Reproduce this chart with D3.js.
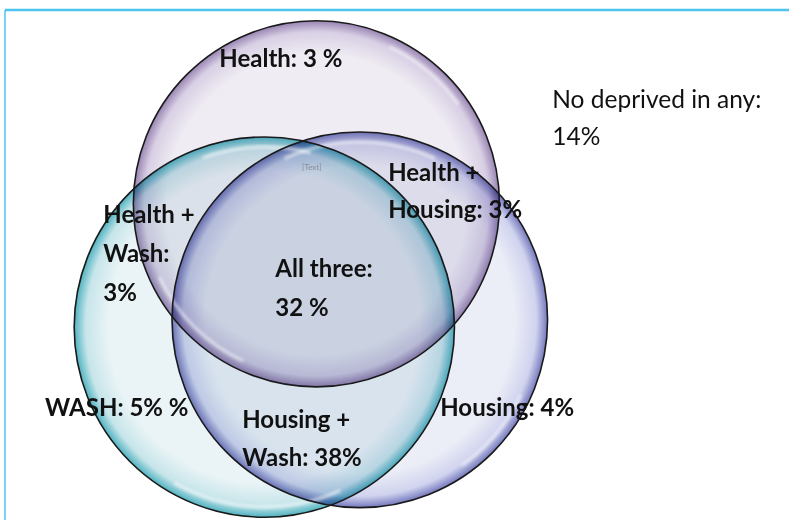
<!DOCTYPE html>
<html>
<head>
<meta charset="utf-8">
<script src="https://cdn.jsdelivr.net/npm/d3@7"></script>
<style>
  html, body { margin: 0; padding: 0; background: #ffffff; }
  svg { display: block; }
  .lbl { font-family: Lato, "Open Sans", sans-serif; font-weight: 700; fill: #111; }
  .note { font-family: Lato, "Open Sans", sans-serif; font-weight: 400; fill: #111; }
</style>
</head>
<body>
<svg id="chart" width="789" height="520"></svg>
<script>
// Deprivation sets and the share of children in each region (%)
const setNames = ["Health", "WASH", "Housing"];
const regionNames = ["Health", "WASH", "Housing", "Health + Wash", "Health + Housing", "Housing + Wash", "All three", "No deprived in any"];
const regionValues = [3, 5, 4, 3, 3, 38, 32, 14];
const regionLines = [
  ["Health: 3 %"],
  ["WASH: 5% %"],
  ["Housing: 4%"],
  ["Health +", "Wash:", "3%"],
  ["Health +", "Housing: 3%"],
  ["Housing +", "Wash: 38%"],
  ["All three:", "32 %"],
  ["No deprived in any:", "14%"]
];

// Circle layout in diagram units (0..1 across the drawing box)
const circleLayout = {
  Health:  { cx: 0.401, cy: 0.392, r: 0.232, rim: "#9884b2", mid: "#d8cfe4", core: "#efecf3", hl: [[205, 245], [25, 55]] },
  WASH:    { cx: 0.335, cy: 0.629, r: 0.241, rim: "#4fb2c0", mid: "#c6e5ea", core: "#eaf4f6", hl: [[155, 210], [340, 15]] },
  Housing: { cx: 0.456, cy: 0.615, r: 0.238, rim: "#7479bd", mid: "#d0d3ee", core: "#eceef7", hl: [[335, 25], [115, 145]] }
};
// Label anchors in the same units (left edge, first baseline)
const labelAnchors = [
  [0.278, 0.128], [0.057, 0.800], [0.558, 0.800], [0.131, 0.429],
  [0.492, 0.348], [0.307, 0.823], [0.349, 0.532], [0.700, 0.207]
];

const W = 789, H = 520;
const svg = d3.select("#chart");
const x = d3.scaleLinear().domain([0, 1]).range([0, W]);
const y = d3.scaleLinear().domain([0, 1]).range([0, H]);
const rad = d3.scaleLinear().domain([0, 1]).range([0, W]);

// frame
svg.append("line").attr("x1", 5).attr("x2", W).attr("y1", 10).attr("y2", 10)
  .attr("stroke", "#4cc4ee").attr("stroke-width", 2.5);
svg.append("line").attr("x1", 5).attr("x2", 5).attr("y1", 10).attr("y2", H)
  .attr("stroke", "#4cc4ee").attr("stroke-width", 1.5);

const defs = svg.append("defs");
defs.append("filter").attr("id", "soft").append("feGaussianBlur").attr("stdDeviation", 1.5);

const circles = setNames.map(n => Object.assign({ name: n }, circleLayout[n]));

circles.forEach((c, i) => {
  const g = defs.append("radialGradient").attr("id", "grad" + i)
    .attr("cx", "50%").attr("cy", "50%").attr("r", "50%");
  g.append("stop").attr("offset", "0%").attr("stop-color", c.core);
  g.append("stop").attr("offset", "82%").attr("stop-color", c.core);
  g.append("stop").attr("offset", "94%").attr("stop-color", c.mid);
  g.append("stop").attr("offset", "100%").attr("stop-color", c.rim);
});

const bubbles = svg.append("g");
bubbles.selectAll("circle.fill").data(circles).join("circle")
  .attr("class", "fill")
  .attr("cx", d => x(d.cx)).attr("cy", d => y(d.cy)).attr("r", d => rad(d.r))
  .attr("fill", (d, i) => `url(#grad${i})`)
  .style("mix-blend-mode", "multiply");

// glassy highlights just inside the rim
const arc = d3.arc();
circles.forEach(c => {
  c.hl.forEach(([a0, a1]) => {
    const e = a1 < a0 ? a1 + 360 : a1;
    const rr = rad(c.r);
    svg.append("path")
      .attr("transform", `translate(${x(c.cx)},${y(c.cy)})`)
      .attr("d", arc({ innerRadius: rr * 0.94, outerRadius: rr * 0.955, startAngle: a0 * Math.PI / 180, endAngle: e * Math.PI / 180 }))
      .attr("fill", "#ffffff").attr("opacity", 0.6).attr("filter", "url(#soft)");
  });
});

svg.append("g").selectAll("circle").data(circles).join("circle")
  .attr("cx", d => x(d.cx)).attr("cy", d => y(d.cy)).attr("r", d => rad(d.r))
  .attr("fill", "none").attr("stroke", "#1a1a1a").attr("stroke-width", 1.6);

// placeholder text left in the diagram
svg.append("text").attr("x", 302).attr("y", 170).attr("font-family", "Lato, sans-serif")
  .attr("font-size", 8).attr("fill", "#8a8f99").text("[Text]");

// region labels
const lineGap = [0, 38, 39, 39, 37, 38, 39, 37];
regionLines.forEach((lines, i) => {
  const [ax, ay] = labelAnchors[i];
  const t = svg.append("text").attr("class", i === 7 ? "note" : "lbl")
    .attr("x", x(ax)).attr("y", y(ay)).attr("font-size", i === 7 ? 24.5 : 24);
  lines.forEach((s, k) => {
    t.append("tspan").attr("x", x(ax)).attr("dy", k === 0 ? 0 : lineGap[i]).text(s);
  });
});
</script>
</body>
</html>
